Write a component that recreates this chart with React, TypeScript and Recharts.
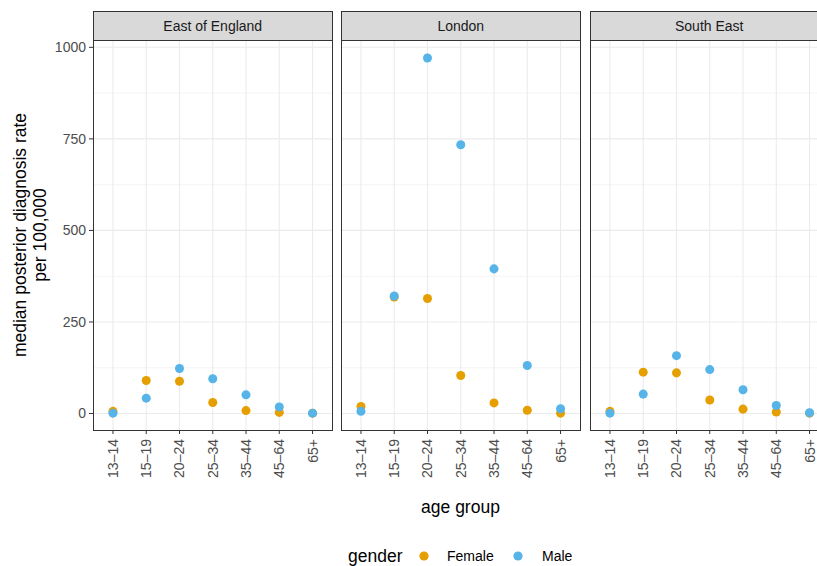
import { ScatterChart, Scatter, XAxis, YAxis, ZAxis, CartesianGrid } from "recharts";

// categories
const ageGroups = ["13–14", "15–19", "20–24", "25–34", "35–44", "45–64", "65+"];
const regions = ["East of England", "London", "South East"];

// median posterior diagnosis rate per 100,000
const eastFemale = [6, 90, 88, 30, 8, 3, 1];
const eastMale = [1, 42, 123, 95, 51, 18, 1];
const londonFemale = [19, 318, 314, 104, 29, 9, 1];
const londonMale = [6, 321, 971, 734, 395, 131, 13];
const southEastFemale = [6, 113, 111, 37, 12, 4, 1];
const southEastMale = [1, 53, 158, 120, 65, 22, 2];

const yTicks = [0, 250, 500, 750, 1000];
const yMinor = [125, 375, 625, 875];

const FEMALE = "#E69F00";
const MALE = "#56B4E9";
const FONT = '"Liberation Sans", Arial, Helvetica, sans-serif';

const PANEL_TOP = 40;
const PANEL_H = 390;
const PANEL_W = 239.5;
const Y_AXIS_W = 93;
const panelLefts = [93, 341, 589.5];
const seriesByRegion = [
  [eastFemale, eastMale],
  [londonFemale, londonMale],
  [southEastFemale, southEastMale],
];

const toPoints = (vals: number[]) => vals.map((v, i) => ({ x: i + 1, y: v }));

const AgeTick = ({ x, y, payload }: any) => (
  <text
    x={x}
    y={y}
    transform={`rotate(-90, ${x}, ${y})`}
    textAnchor="end"
    dominantBaseline="central"
    fill="#4d4d4d"
    fontSize={14}
    fontFamily={FONT}
  >
    {ageGroups[payload.value - 1]}
  </text>
);

const Facet = ({ idx }: { idx: number }) => {
  const showY = idx === 0;
  const [female, male] = seriesByRegion[idx];
  const left = showY ? 0 : panelLefts[idx];
  const width = showY ? Y_AXIS_W + PANEL_W : PANEL_W;
  return (
    <div style={{ position: "absolute", left, top: PANEL_TOP }}>
      <ScatterChart width={width} height={PANEL_H + 60} margin={{ top: 0, right: 0, bottom: 0, left: 0 }}>
        <CartesianGrid stroke="#ebebeb" strokeWidth={0.55} horizontalValues={yMinor} vertical={false} />
        <CartesianGrid stroke="#ebebeb" strokeWidth={1.1} horizontalValues={yTicks} verticalValues={[1, 2, 3, 4, 5, 6, 7]} />
        <XAxis
          type="number"
          dataKey="x"
          domain={[0.4, 7.6]}
          ticks={[1, 2, 3, 4, 5, 6, 7]}
          allowDataOverflow
          height={60}
          axisLine={false}
          tickLine={{ stroke: "#333333", strokeWidth: 1 }}
          tickSize={4}
          tickMargin={5}
          tick={<AgeTick />}
          interval={0}
        />
        <YAxis
          type="number"
          dataKey="y"
          domain={[-45, 1020]}
          ticks={yTicks}
          allowDataOverflow
          hide={!showY}
          width={Y_AXIS_W}
          axisLine={false}
          tickLine={{ stroke: "#333333", strokeWidth: 1 }}
          tickSize={4}
          tickMargin={3}
          tick={{ fill: "#4d4d4d", fontSize: 14, fontFamily: FONT }}
          interval={0}
        />
        <ZAxis range={[68, 68]} />
        <Scatter name="Female" data={toPoints(female)} fill={FEMALE} isAnimationActive={false} />
        <Scatter name="Male" data={toPoints(male)} fill={MALE} isAnimationActive={false} />
      </ScatterChart>
    </div>
  );
};

export default function App() {
  return (
    <div
      style={{
        position: "absolute",
        left: 0,
        top: 0,
        width: 817,
        height: 566,
        overflow: "hidden",
        background: "#ffffff",
        fontFamily: FONT,
      }}
    >
      {regions.map((r, i) => (
        <Facet key={r} idx={i} />
      ))}
      {regions.map((r, i) => (
        <div key={r + "-frame"}>
          <div
            style={{
              position: "absolute",
              left: panelLefts[i],
              top: 10.5,
              width: PANEL_W,
              height: 30,
              boxSizing: "border-box",
              border: "1px solid #333333",
              background: "#d9d9d9",
              color: "#1a1a1a",
              fontSize: 14,
              lineHeight: "28px",
              textAlign: "center",
            }}
          >
            {r}
          </div>
          <div
            style={{
              position: "absolute",
              left: panelLefts[i],
              top: PANEL_TOP - 0.5,
              width: PANEL_W,
              height: PANEL_H + 1,
              boxSizing: "border-box",
              border: "1px solid #333333",
              pointerEvents: "none",
            }}
          />
        </div>
      ))}
      <svg width={817} height={566} style={{ position: "absolute", left: 0, top: 0, pointerEvents: "none" }}>
        <g fontFamily={FONT} fill="#000000">
          <text x={20} y={235} transform="rotate(-90, 20, 235)" textAnchor="middle" dominantBaseline="central" fontSize={17.5}>
            median posterior diagnosis rate
          </text>
          <text x={40} y={235} transform="rotate(-90, 40, 235)" textAnchor="middle" dominantBaseline="central" fontSize={17.5}>
            per 100,000
          </text>
          <text x={460.5} y={507} textAnchor="middle" dominantBaseline="central" fontSize={17.5}>
            age group
          </text>
          <text x={348} y={556} dominantBaseline="central" fontSize={17.5}>
            gender
          </text>
          <circle cx={424} cy={556} r={4.6} fill={FEMALE} />
          <text x={447} y={556} dominantBaseline="central" fontSize={14}>
            Female
          </text>
          <circle cx={518} cy={556} r={4.6} fill={MALE} />
          <text x={542} y={556} dominantBaseline="central" fontSize={14}>
            Male
          </text>
        </g>
      </svg>
    </div>
  );
}
